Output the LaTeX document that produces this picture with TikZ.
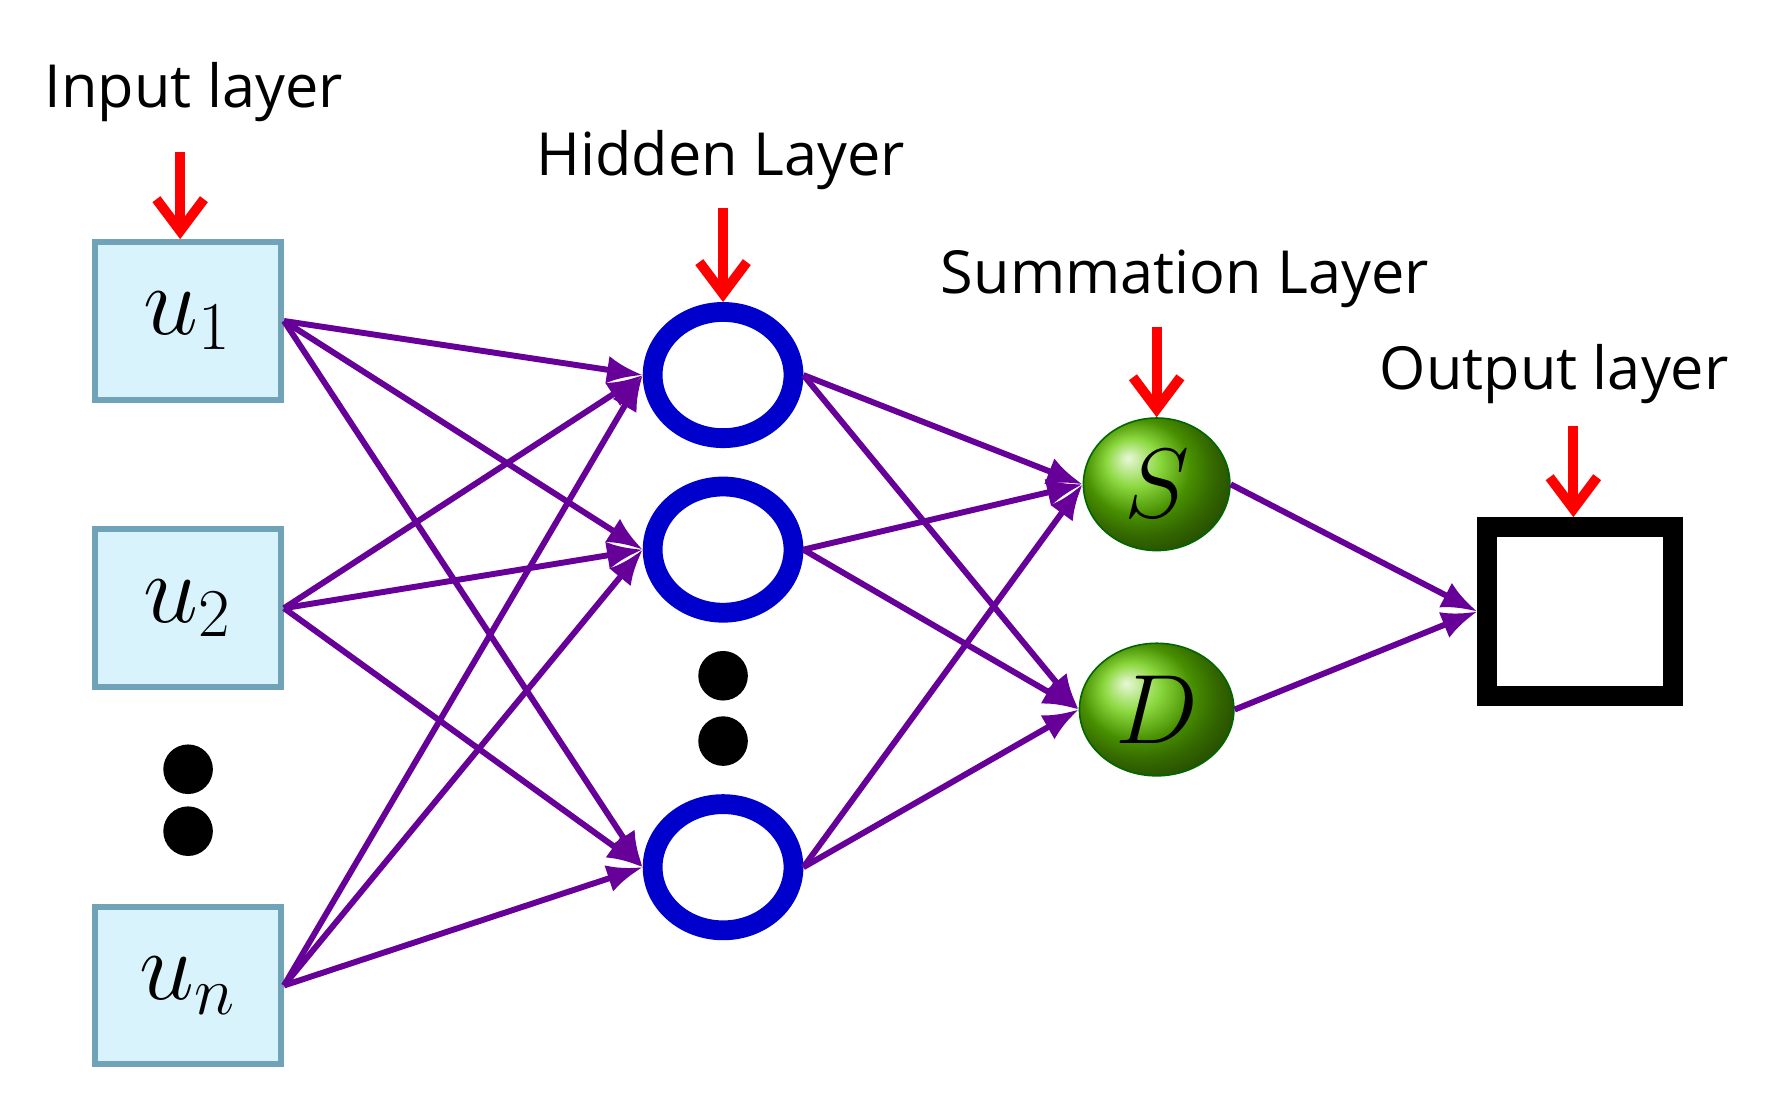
\documentclass[tikz,border=0pt]{standalone}
\usepackage{fontspec}
\setmainfont{Open Sans}
\usetikzlibrary{arrows.meta,shapes.geometric}
\begin{document}
\begin{tikzpicture}[x=0.01cm,y=-0.01cm]
\tikzstyle{inp}=[draw=cyan!40!gray,fill=cyan!15,line width=1.5pt,minimum width=1.65cm,minimum height=1.4cm,font=\fontsize{26}{28}\selectfont]
\tikzstyle{hid}=[draw=blue!80!black,line width=5pt,ellipse,minimum width=1.25cm,minimum height=1.12cm]
\tikzstyle{sum}=[draw=green!40!black,ball color=yellow!50!green!80!black,ellipse,minimum width=1.3cm,minimum height=1cm,font=\fontsize{24}{26}\selectfont]
\tikzstyle{dot}=[fill=black,circle,minimum size=0.44cm,inner sep=0pt]
\tikzstyle{lbl}=[font=\fontsize{15}{17}\selectfont]
\tikzstyle{red}=[draw=red,line width=2.5pt,-{Straight Barb[length=8pt,width=12pt]}]
\tikzstyle{link}=[draw=violet!80!blue,line width=1.5pt,-{Latex[length=9pt,width=7pt]}]
\useasboundingbox (0,0) rectangle (1568,991);
\path (167,285) node[inp](u1){$u_1$} (167,540) node[inp](u2){$u_2$} (167,875) node[inp](un){$u_n$};
\path (167,683) node[dot](d1){} (167,738) node[dot](d2){};
\path (642,333) node[hid](h1){} (642,488) node[hid](h2){} (642,770) node[hid](h3){};
\path (642,600) node[dot](d3){} (642,658) node[dot](d4){};
\path (1027,430) node[sum](s){$S$} (1027,630) node[sum](d){$D$};
\path (1403,543) node[draw,line width=5pt,minimum width=1.65cm,minimum height=1.5cm](o){};
% labels
\path (172,82) node[lbl](li){Input layer} (640,142) node[lbl](lh){Hidden Layer}
 (1052,248) node[lbl](ls){Summation Layer} (1380,332) node[lbl](lo){Output layer};
\coordinate (a1) at (160,135); \coordinate (a2) at (642,185);
\coordinate (a3) at (1027,290); \coordinate (a4) at (1397,378);
\draw[red] (a1) -- (u1.north -| a1);
\draw[red] (a2) -- (h1.north);
\draw[red] (a3) -- (s.north);
\draw[red] (a4) -- (o.north -| a4);
% connections
\foreach \i in {u1,u2,un}
 \foreach \j in {h1,h2,h3}
  \draw[link] (\i.east) -- (\j.west);
\foreach \i in {h1,h2,h3}
 \foreach \j in {s,d}
  \draw[link] (\i.east) -- (\j.west);
\draw[link] (s.east) -- (o.west);
\draw[link] (d.east) -- (o.west);
\end{tikzpicture}
\end{document}
